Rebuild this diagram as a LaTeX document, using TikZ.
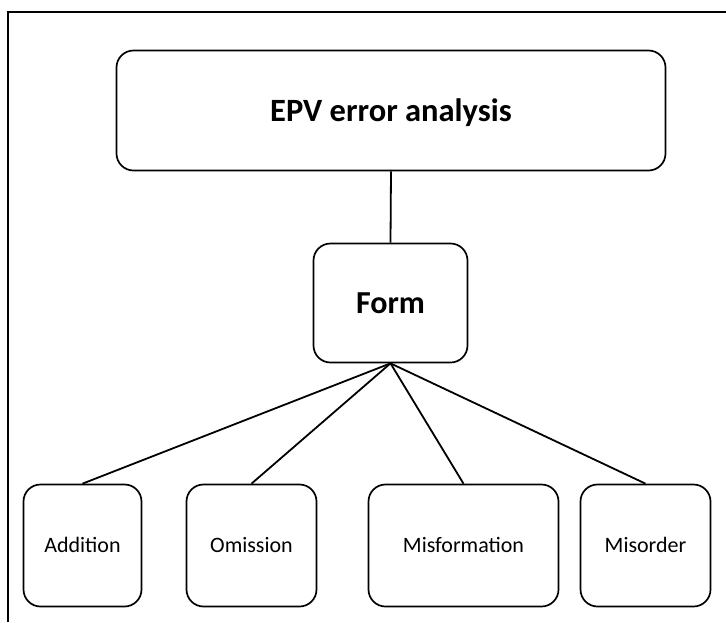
\documentclass[tikz,border=0pt]{standalone}
\usepackage{fontspec}
\setmainfont{Carlito}
\begin{document}
\begin{tikzpicture}[x=1pt,y=-1pt,
  box/.style={draw, line width=1.7pt, rounded corners=17pt, inner sep=0pt, align=center},
  big/.style={font=\fontsize{32.5}{38}\selectfont\bfseries, text height=21pt, text depth=0pt},
  small/.style={font=\fontsize{22}{26}\selectfont, text height=14pt, text depth=0pt},
  link/.style={line width=1.8pt}]
\useasboundingbox (0,0) rectangle (726,622);
\coordinate (fa) at (8,622);
\coordinate (fb) at (8,12);
\coordinate (fc) at (726,12);
\draw[line width=1.5pt] (fa) -- (fb) -- (fc);
\node[box, big, minimum width=549pt, minimum height=120pt] (top) at (391,110.5) {EPV error analysis};
\node[box, big, font=\fontsize{32}{38}\selectfont\bfseries, minimum width=154pt, minimum height=119pt] (form) at (390.5,303) {Form};
\node[box, small, minimum width=118pt, minimum height=122pt] (add) at (82.5,545.5) {Addition};
\node[box, small, minimum width=130pt, minimum height=122pt] (omi) at (251.5,545.5) {Omission};
\node[box, small, minimum width=190pt, minimum height=122pt] (mis) at (463.5,545.5) {Misformation};
\node[box, small, minimum width=130pt, minimum height=122pt] (ord) at (645.5,545.5) {Misorder};
\draw[link] (top.south) -- (form.north);
\draw[link] (form.south) -- (add.north);
\draw[link] (form.south) -- (omi.north);
\draw[link] (form.south) -- (mis.north);
\draw[link] (form.south) -- (ord.north);
\end{tikzpicture}
\end{document}
